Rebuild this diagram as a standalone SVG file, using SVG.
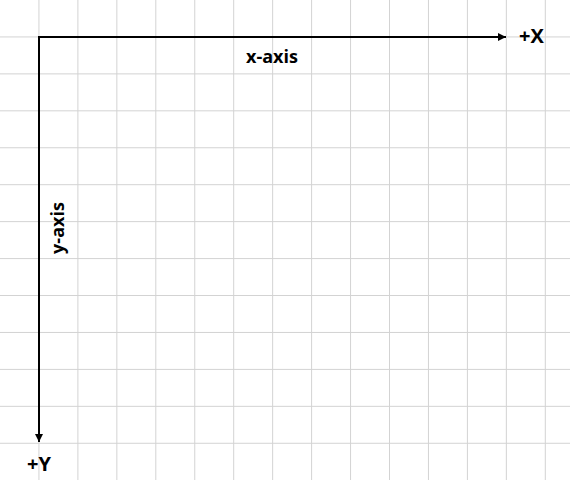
<svg xmlns="http://www.w3.org/2000/svg" width="570" height="480" viewBox="0 0 570 480">
<style>
.grid{stroke:#d3d3d3;stroke-width:1;fill:none}
.axis{stroke:#000;stroke-width:2;fill:none}
.lbl{font-family:"Open Sans","Liberation Sans",sans-serif;font-weight:bold;font-size:18px;fill:#000}
.end{font-size:20px}
</style>
<defs>
<marker id="arr" markerUnits="userSpaceOnUse" markerWidth="9" markerHeight="8" refX="8" refY="4" orient="auto">
<path d="M0,0 L8,4 L0,8 z" fill="#000"/>
</marker>
</defs>
<rect width="570" height="480" fill="#fff"/>
<g id="grid">
<path class="grid" d="M38.95,0V480 M77.9,0V480 M116.85,0V480 M155.8,0V480 M194.75,0V480 M233.7,0V480 M272.65,0V480 M311.6,0V480 M350.55,0V480 M389.5,0V480 M428.45,0V480 M467.4,0V480 M506.35,0V480 M545.3,0V480"/>
<path class="grid" d="M0,36.94H570 M0,73.88H570 M0,110.82H570 M0,147.76H570 M0,184.7H570 M0,221.64H570 M0,258.58H570 M0,295.52H570 M0,332.46H570 M0,369.4H570 M0,406.34H570 M0,443.28H570"/>
</g>
<g id="connectors">
<line id="x-axis-line" class="axis" x1="38" y1="37" x2="506" y2="37" marker-end="url(#arr)"/>
<line id="y-axis-line" class="axis" x1="39" y1="36" x2="39" y2="442" marker-end="url(#arr)"/>
</g>
<g id="x-label"><text class="lbl" x="272" y="63" text-anchor="middle">x-axis</text></g>
<g id="y-label"><text class="lbl" text-anchor="middle" transform="translate(64,228) rotate(-90)">y-axis</text></g>
<g id="plus-x"><text class="lbl end" x="519" y="43">+X</text></g>
<g id="plus-y"><text class="lbl end" x="27" y="471">+Y</text></g>
</svg>
